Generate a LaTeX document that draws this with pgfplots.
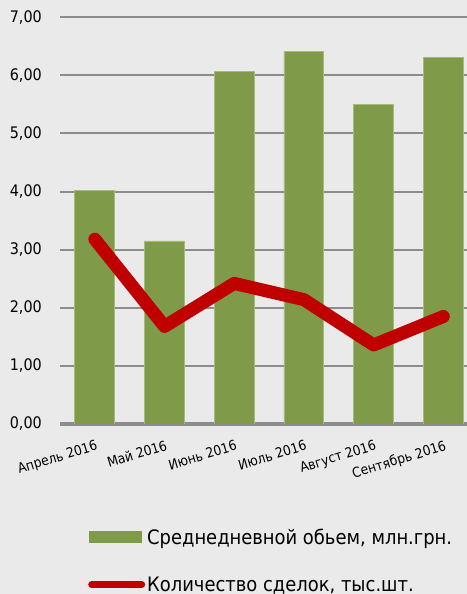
\documentclass[border=0pt]{standalone}
\usepackage{fontspec}
\setmainfont{DejaVu Sans Condensed}
\usepackage{pgfplots}
\pgfplotsset{compat=1.18}
\definecolor{bg}{HTML}{EAEAEA}
\definecolor{bargreen}{HTML}{7F9B4A}
\definecolor{baredge}{HTML}{A3BC78}
\definecolor{linered}{HTML}{C00000}
\definecolor{gridgray}{HTML}{8C8C8C}
\begin{document}
\begin{tikzpicture}
\fill[bg] (0,0) rectangle (467bp,594bp);
\useasboundingbox (0,0) rectangle (467bp,594bp);
\begin{axis}[
  at={(60bp,170bp)}, anchor=south west,
  scale only axis, width=407bp, height=406.7bp,
  xmin=-0.5, xmax=5.34, ymin=0, ymax=7,
  axis x line*=bottom, axis y line*=left,
  x axis line style={gridgray, line width=3bp, -},
  y axis line style={draw=none},
  ymajorgrids, grid style={gridgray, line width=2bp},
  major tick length=0pt,
  ytick={0,1,...,7},
  xtick={0,1,2,3,4,5},
  xticklabels={Апрель 2016, Май 2016, Июнь 2016, Июль 2016, Август 2016, Сентябрь 2016},
  /pgf/number format/.cd, fixed, fixed zerofill, precision=2, use comma, assume math mode=true,
  /pgfplots/.cd,
  yticklabel style={font=\fontsize{16}{19}\selectfont, inner sep=0pt, anchor=east, xshift=-18bp},
  xticklabel style={font=\fontsize{13.8}{16}\selectfont, inner sep=0pt, rotate=17, anchor=north east, xshift=-4bp, yshift=-15bp},
  legend style={at={(0.0688,-0.252)}, anchor=north west, draw=none, fill=none,
    font=\fontsize{20}{23}\selectfont, row sep=27bp, inner sep=0pt,
    nodes={inner sep=2bp}},
  legend cell align=left,
]
\addplot[ybar, bar width=0.573, bar shift=0pt, fill=bargreen, draw=baredge, line width=0.8bp,
  legend image code/.code={\fill[bargreen] (0bp,-5.5bp) rectangle (52bp,5.5bp);}]
  coordinates {(0,4.02) (1,3.15) (2,6.07) (3,6.41) (4,5.50) (5,6.31)};
\addlegendentry{Среднедневной обьем, млн.грн.}
\addplot[linered, line width=13bp, line cap=round, line join=round, mark=none,
  legend image code/.code={\draw[linered, line width=7bp, line cap=round] (2bp,0bp) -- (52bp,0bp);}]
  coordinates {(0,3.18) (1,1.68) (2,2.42) (3,2.14) (4,1.36) (5,1.85)};
\addlegendentry{Количество сделок, тыс.шт.}
\end{axis}
\end{tikzpicture}
\end{document}
